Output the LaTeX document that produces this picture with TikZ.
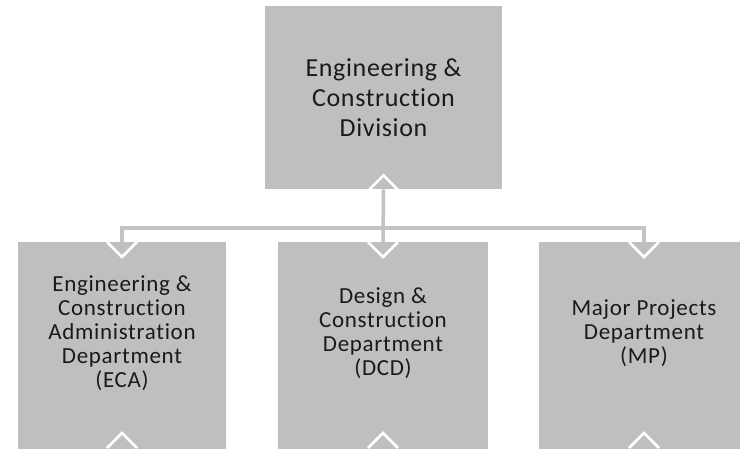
\documentclass[tikz,border=0pt]{standalone}
\usepackage{fontspec}
\setmainfont{Carlito}[RawFeature=-liga]
\newfontfamily\topfont{Carlito}[RawFeature=-liga, LetterSpace=2.5]
\newfontfamily\subfont{Carlito}[RawFeature=-liga, LetterSpace=3]
\usetikzlibrary{calc}
\definecolor{boxgray}{HTML}{BFBFBF}
\definecolor{linegray}{HTML}{C3C3C3}
\definecolor{txt}{HTML}{1A1A1A}
\tikzset{
  orgbox/.style={fill=boxgray, draw=none, rectangle, inner sep=0pt},
  toplbl/.style={align=center, text=txt, font=\topfont\fontsize{26}{30}\selectfont, inner sep=0pt},
  sublbl/.style={align=center, text=txt, font=\subfont\fontsize{23}{24}\selectfont, inner sep=0pt},
  conn/.style={draw=linegray, line width=3.5pt},
  chev/.style={draw=white, line width=2.6pt, line join=miter}
}
\begin{document}
\begin{tikzpicture}[x=1pt,y=-1pt]
\useasboundingbox (0,0) rectangle (740,448);
\clip (0,0) rectangle (740,448);
% boxes
\node[orgbox, minimum width=237pt, minimum height=183pt, anchor=north] (top) at (383.5,6) {};
\node[orgbox, minimum width=208pt, minimum height=230pt, anchor=north] (eca) at (122,242) {};
\node[orgbox, minimum width=210pt, minimum height=230pt, anchor=north] (dcd) at (383,242) {};
\node[orgbox, minimum width=210pt, minimum height=230pt, anchor=north] (mp) at (644,242) {};
% labels
\node[toplbl] (toptxt) at (383.5,97.5) {Engineering \&\\Construction\\Division};
\node[sublbl] (ecatxt) at (122,333) {Engineering \&\\Construction\\Administration\\Department\\(ECA)};
\node[sublbl] (dcdtxt) at (383,333) {Design \&\\Construction\\Department\\(DCD)};
\node[sublbl] (mptxt) at (644,333) {Major Projects\\Department\\(MP)};
% connectors
\coordinate (bus) at (0,228);
\draw[conn] (top.south) -- (dcd.north);
\draw[conn] (eca.north) |- (bus -| mp.north) -- (mp.north);
% chevrons (arrowheads)
\foreach \b in {eca,dcd,mp}{
  \draw[chev] ($(\b.north)+(-15,0)$) -- ($(\b.north)+(0,15)$) -- ($(\b.north)+(15,0)$);
  \draw[chev] ($(\b.north)+(-15,206)$) -- ($(\b.north)+(0,191)$) -- ($(\b.north)+(15,206)$);
}
\draw[chev] ($(top.south)+(-15,1)$) -- ($(top.south)+(0,-14)$) -- ($(top.south)+(15,1)$);
\end{tikzpicture}
\end{document}
